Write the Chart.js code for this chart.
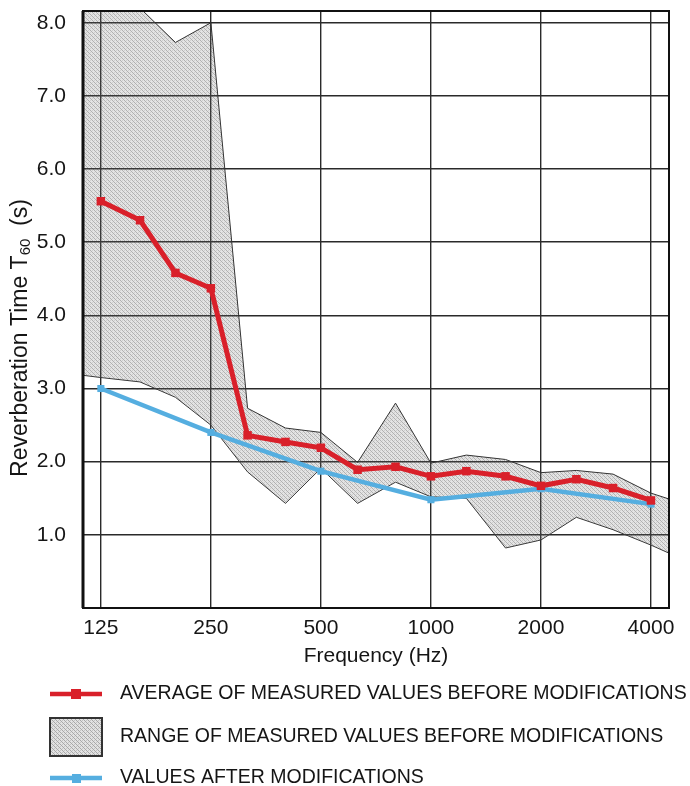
<!DOCTYPE html>
<html>
<head>
<meta charset="utf-8">
<script src="https://cdn.jsdelivr.net/npm/chart.js@4.4.1/dist/chart.umd.min.js"></script>
<style>
  html, body { margin: 0; padding: 0; background: #fff; }
  #wrap { width: 690px; height: 786px; }
</style>
</head>
<body>
<div id="wrap"><canvas id="rt" width="690" height="786"></canvas></div>
<script>
// 1/3-octave band centres (Hz) and measured values
const bands = [125, 160, 200, 250, 315, 400, 500, 630, 800, 1000, 1250, 1600, 2000, 2500, 3150, 4000];
const avgBefore = [5.56, 5.30, 4.58, 4.37, 2.36, 2.27, 2.19, 1.89, 1.93, 1.80, 1.87, 1.80, 1.67, 1.76, 1.64, 1.47];

const afterBands = [125, 250, 500, 1000, 2000, 4000];
const afterValues = [3.00, 2.40, 1.87, 1.48, 1.63, 1.42];

// range envelope runs to the plot edges
const rangeBands = [112, 125, 160, 200, 250, 315, 400, 500, 630, 800, 1000, 1250, 1600, 2000, 2500, 3150, 4000, 4480];
const rangeHigh = [8.6, 8.5, 8.2, 7.73, 8.0, 2.73, 2.46, 2.40, 1.99, 2.80, 1.98, 2.09, 2.03, 1.85, 1.88, 1.83, 1.57, 1.49];
const rangeLow = [3.18, 3.15, 3.09, 2.88, 2.50, 1.86, 1.43, 1.91, 1.43, 1.72, 1.52, 1.50, 0.82, 0.93, 1.24, 1.07, 0.86, 0.75];

const octaveTicks = [125, 250, 500, 1000, 2000, 4000];
const yTicks = [1, 2, 3, 4, 5, 6, 7, 8];

const legendLabels = [
    'AVERAGE OF MEASURED VALUES BEFORE MODIFICATIONS',
    'RANGE OF MEASURED VALUES BEFORE MODIFICATIONS',
    'VALUES AFTER MODIFICATIONS'
];

const RED = '#d9202a';
const BLUE = '#55aee0';
const INK = '#151515';
const FONT = "'Liberation Sans', Arial, sans-serif";

function makeHatch(ctx, opaque) {
    const c = document.createElement('canvas');
    c.width = 4; c.height = 4;
    const g = c.getContext('2d');
    g.fillStyle = opaque ? '#e2e2e2' : 'rgba(120,120,120,0.2)';
    g.fillRect(0, 0, 4, 4);
    g.fillStyle = opaque ? '#a8a8a8' : 'rgba(60,60,60,0.3)';
    g.fillRect(0, 0, 1, 1); g.fillRect(1, 1, 1, 1); g.fillRect(2, 2, 1, 1); g.fillRect(3, 3, 1, 1);
    g.fillStyle = opaque ? '#c4c4c4' : 'rgba(90,90,90,0.15)';
    g.fillRect(2, 0, 1, 1); g.fillRect(0, 2, 1, 1);
    return ctx.createPattern(c, 'repeat');
}

const ctx = document.getElementById('rt').getContext('2d');
const hatch = makeHatch(ctx, false);
const hatchLegend = makeHatch(ctx, true);

const pts = (xs, ys) => xs.map((x, i) => ({ x: x, y: ys[i] }));

// frame, y title with subscript, and the legend block
const extras = {
    id: 'extras',
    afterDraw(chart) {
        const c = chart.ctx;
        const a = chart.chartArea;
        c.save();
        c.strokeStyle = '#111';
        c.lineWidth = 2;
        c.strokeRect(a.left, a.top, a.right - a.left, a.bottom - a.top);
        c.lineWidth = 3;
        c.beginPath(); c.moveTo(a.left, a.top); c.lineTo(a.left, a.bottom); c.stroke();

        // y axis title
        c.fillStyle = INK;
        c.translate(21, 338);
        c.rotate(-Math.PI / 2);
        const big = '23px ' + FONT, small = '15px ' + FONT;
        const p1 = 'Reverberation Time T', p2 = '60', p3 = '  (s)';
        c.font = big; const w1 = c.measureText(p1).width, w3 = c.measureText(p3).width;
        c.font = small; const w2 = c.measureText(p2).width;
        let x = -(w1 + w2 + w3) / 2;
        c.textBaseline = 'middle';
        c.textAlign = 'left';
        c.font = big; c.fillText(p1, x, 0); x += w1;
        c.font = small; c.fillText(p2, x, 5); x += w2;
        c.font = big; c.fillText(p3, x, 0);
        c.restore();

        // legend
        c.save();
        c.font = '19.5px ' + FONT;
        c.textBaseline = 'middle';
        c.lineWidth = 4.5;
        c.strokeStyle = RED;
        c.beginPath(); c.moveTo(50, 694); c.lineTo(102, 694); c.stroke();
        c.fillStyle = RED; c.fillRect(71, 689, 10, 10);
        c.fillStyle = hatchLegend; c.fillRect(50, 718, 52, 38);
        c.strokeStyle = '#333'; c.lineWidth = 2; c.strokeRect(50, 718, 52, 38);
        c.strokeStyle = BLUE; c.lineWidth = 4.5;
        c.beginPath(); c.moveTo(50, 778); c.lineTo(102, 778); c.stroke();
        c.fillStyle = BLUE; c.fillRect(72, 774, 9, 9);
        c.fillStyle = INK;
        c.fillText(legendLabels[0], 120, 694);
        c.fillText(legendLabels[1], 120, 737);
        c.fillText(legendLabels[2], 120, 778);
        c.restore();
    }
};

new Chart(ctx, {
    type: 'line',
    data: {
        datasets: [
            {
                label: 'Average before',
                data: pts(bands, avgBefore),
                borderColor: RED, backgroundColor: RED,
                borderWidth: 5, pointStyle: 'rect', pointRadius: 6, pointBorderWidth: 0,
                order: 0
            },
            {
                label: 'After',
                data: pts(afterBands, afterValues),
                borderColor: BLUE, backgroundColor: BLUE,
                borderWidth: 4.5, pointStyle: 'rect', pointRadius: 5, pointBorderWidth: 0,
                order: 1
            },
            {
                label: 'Range high',
                data: pts(rangeBands, rangeHigh),
                borderColor: '#333', borderWidth: 1, pointRadius: 0,
                backgroundColor: hatch, fill: '+1',
                order: 2
            },
            {
                label: 'Range low',
                data: pts(rangeBands, rangeLow),
                borderColor: '#333', borderWidth: 1, pointRadius: 0,
                fill: false,
                order: 3
            }
        ]
    },
    options: {
        responsive: false,
        animation: false,
        layout: { padding: { left: 0, top: 11, right: 21, bottom: 116 } },
        plugins: { legend: { display: false }, tooltip: { enabled: false } },
        scales: {
            x: {
                type: 'logarithmic',
                min: 111.7,
                max: 4481,
                afterBuildTicks: s => { s.ticks = octaveTicks.map(v => ({ value: v })); },
                afterFit: s => { s.height = 62; s.paddingLeft = 0; s.paddingRight = 0; },
                ticks: {
                    color: INK, padding: 8, maxRotation: 0, autoSkip: false,
                    font: { family: FONT, size: 21 },
                    callback: v => String(v)
                },
                grid: { color: '#2a2a2a', lineWidth: 1.4, drawTicks: false },
                border: { display: false },
                title: {
                    display: true, text: 'Frequency (Hz)', color: INK,
                    font: { family: FONT, size: 21 }, padding: { top: 0, bottom: 1 }
                }
            },
            y: {
                min: 0,
                max: 8.16,
                afterBuildTicks: s => { s.ticks = yTicks.map(v => ({ value: v })); },
                afterFit: s => { s.width = 83; s.paddingTop = 0; s.paddingBottom = 0; },
                ticks: {
                    color: INK, padding: 17,
                    font: { family: FONT, size: 21 },
                    callback: v => v.toFixed(1)
                },
                grid: { color: '#2a2a2a', lineWidth: 1.4, drawTicks: false },
                border: { display: false }
            }
        }
    },
    plugins: [extras]
});
</script>
</body>
</html>
